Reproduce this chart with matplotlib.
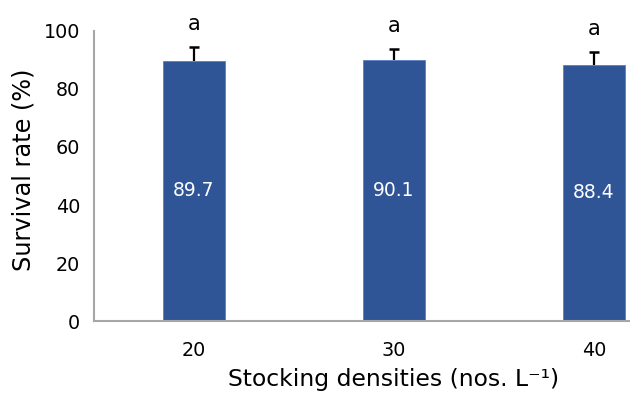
import matplotlib
matplotlib.use("Agg")
import matplotlib.pyplot as plt
import numpy as np

densities = ["20", "30", "40"]
survival = [89.7, 90.1, 88.4]
errors = [4.8, 3.7, 4.4]
letters = ["a", "a", "a"]

plt.rcParams["font.family"] = ["DejaVu Sans"]

fig = plt.figure(figsize=(6.3, 3.96), dpi=100)
ax = fig.add_axes([0.149, 0.189, 0.851, 0.733])

x = np.arange(len(densities))
means = np.array(survival)
tops = means + np.array(errors)

bar_color = "#2F5597"
ax.bar(x, means, width=0.31, color=bar_color, edgecolor="#5B7FC0", linewidth=0.6, zorder=2)

# one-sided (upper) error bars: stem plus a cap at the top only
ax.vlines(x, means, tops, color="black", linewidth=1.6, zorder=3)
ax.plot(x, tops, linestyle="none", marker="_", markersize=7, markeredgewidth=1.8,
        color="black", zorder=3)

for xi, v, t, s in zip(x, means, tops, letters):
    ax.text(xi, v / 2, f"{v:.1f}", ha="center", va="center", color="white", fontsize=13.5)
    ax.text(xi, t + 8, s, ha="center", va="center", color="black", fontsize=15,
            clip_on=False)

ax.set_xlim(-0.5, 2.18)
ax.set_ylim(0, 100)
ax.set_yticks([0, 20, 40, 60, 80, 100])
ax.set_xticks(x)
ax.set_xticklabels(densities)
ax.tick_params(axis="both", length=0, labelsize=13.8, colors="black")
ax.tick_params(axis="y", pad=10)
ax.tick_params(axis="x", pad=14)

for side in ("top", "right"):
    ax.spines[side].set_visible(False)
for side in ("left", "bottom"):
    ax.spines[side].set_color("#A6A6A6")
    ax.spines[side].set_linewidth(1.5)

ax.set_ylabel("Survival rate (%)", fontsize=17.3, labelpad=6)
ax.yaxis.label.set_y(0.52)
ax.set_xlabel("Stocking densities (nos. L\u207b\u00b9)", fontsize=16.9, labelpad=6)
# centre the x-axis title under the middle group
ax.xaxis.label.set_x((1 + 0.5) / (2.18 + 0.5))

fig.savefig("out.png", dpi=100)
